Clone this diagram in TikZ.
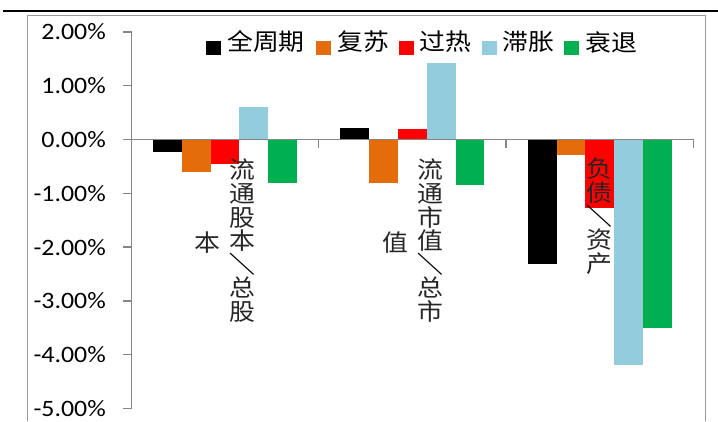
\documentclass[tikz,border=0pt]{standalone}
\usepackage{fontspec}
\setmainfont{Carlito}
\newfontfamily\cjk{Noto Sans CJK SC}
\usepackage{graphicx}
\definecolor{barorange}{HTML}{E46C0A}
\definecolor{barred}{HTML}{FF0000}
\definecolor{barblue}{HTML}{93CDDD}
\definecolor{bargreen}{HTML}{00B050}
\definecolor{axisgray}{HTML}{868686}
\definecolor{framegray}{HTML}{9A9A9A}
\newsavebox\slashbox
\newcommand\vslash{\usebox\slashbox}
\newcommand\chartbar[4]{%
  \fill[#4] ({131.3+187.4*#1+21.7+28.8*#2},139.5) rectangle ({131.3+187.4*#1+21.7+28.8*(#2+1)},{139.5-53.8*(#3)});}
\begin{document}
\lineskiplimit=-100pt
\sbox\slashbox{\cjk\bfseries\fontsize{23.5}{23.4}\selectfont\rotatebox[origin=c]{-90}{／}}
\begin{tikzpicture}[x=1pt,y=-1pt,
  axisline/.style={draw=axisgray,line width=1.5pt},
  ylab/.style={anchor=east,inner sep=0pt,xscale=1.1,font=\fontsize{23.5}{24}\selectfont},
  legsq/.style={minimum width=15pt,minimum height=14pt,inner sep=0pt,draw=none},
  legtxt/.style={anchor=west,inner sep=0pt,xscale=1.1,font=\cjk\fontsize{23.5}{24}\selectfont},
  vlab/.style={inner sep=0pt,align=center,xscale=1.1,text=black!85,font=\cjk\fontsize{23.5}{23.6}\selectfont}]
\useasboundingbox (0,0) rectangle (718,421);
% top rule and frame
\draw[line width=2.2pt] (3,11) -- (718,11);
\draw[framegray,line width=1.8pt] (27.5,421) -- (27.5,15.5) -- (705.5,15.5) -- (705.5,421);
% bars
\chartbar{0}{0}{-0.24}{black}
\chartbar{0}{1}{-0.61}{barorange}
\chartbar{0}{2}{-0.46}{barred}
\chartbar{0}{3}{0.60}{barblue}
\chartbar{0}{4}{-0.81}{bargreen}
\chartbar{1}{0}{0.22}{black}
\chartbar{1}{1}{-0.81}{barorange}
\chartbar{1}{2}{0.20}{barred}
\chartbar{1}{3}{1.43}{barblue}
\chartbar{1}{4}{-0.85}{bargreen}
\chartbar{2}{0}{-2.31}{black}
\chartbar{2}{1}{-0.28}{barorange}
\chartbar{2}{2}{-1.28}{barred}
\chartbar{2}{3}{-4.20}{barblue}
\chartbar{2}{4}{-3.51}{bargreen}
% axes
\draw[axisline] (131.5,31.9) -- (131.5,408.5);
\foreach \v in {2,1,0,-1,-2,-3,-4,-5}
  \draw[axisline] (123,{139.5-53.8*\v}) -- (131.5,{139.5-53.8*\v});
\draw[axisline] (131.5,139.5) -- (693.5,139.5);
\foreach \k in {1,2,3}
  \draw[axisline] ({131.3+187.4*\k},139.5) -- ({131.3+187.4*\k},147.5);
% y labels
\node[ylab] (yp2) at (106,31.9) {2.00\%};
\node[ylab] (yp1) at (106,85.7) {1.00\%};
\node[ylab] (y0) at (106,139.5) {0.00\%};
\node[ylab] (ym1) at (106,193.3) {-1.00\%};
\node[ylab] (ym2) at (106,247.1) {-2.00\%};
\node[ylab] (ym3) at (106,300.9) {-3.00\%};
\node[ylab] (ym4) at (106,354.7) {-4.00\%};
\node[ylab] (ym5) at (106,408.5) {-5.00\%};
% legend
\node[legsq,fill=black] (sq1) at (213.5,47.5) {};
\node[legtxt] (lg1) at (227,42) {全周期};
\node[legsq,fill=barorange] (sq2) at (323,47.5) {};
\node[legtxt] (lg2) at (337,42) {复苏};
\node[legsq,fill=barred] (sq3) at (406,47.5) {};
\node[legtxt] (lg3) at (419,42) {过热};
\node[legsq,fill=barblue] (sq4) at (489,47.5) {};
\node[legtxt] (lg4) at (502,42) {滞胀};
\node[legsq,fill=bargreen] (sq5) at (571.5,47.5) {};
\node[legtxt] (lg5) at (585,42) {衰退};
% category labels
\node[vlab,anchor=north] (c1a) at (242,159) {流\\通\\股\\本\\{\vslash}\\总\\股};
\node[vlab] (c1b) at (207,243) {本};
\node[vlab,anchor=north] (c2a) at (430,159) {流\\通\\市\\值\\{\vslash}\\总\\市};
\node[vlab] (c2b) at (395,243) {值};
\node[vlab,anchor=north] (c3) at (599.5,158) {负\\债\\{\vslash}\\资\\产};
\end{tikzpicture}
\end{document}
